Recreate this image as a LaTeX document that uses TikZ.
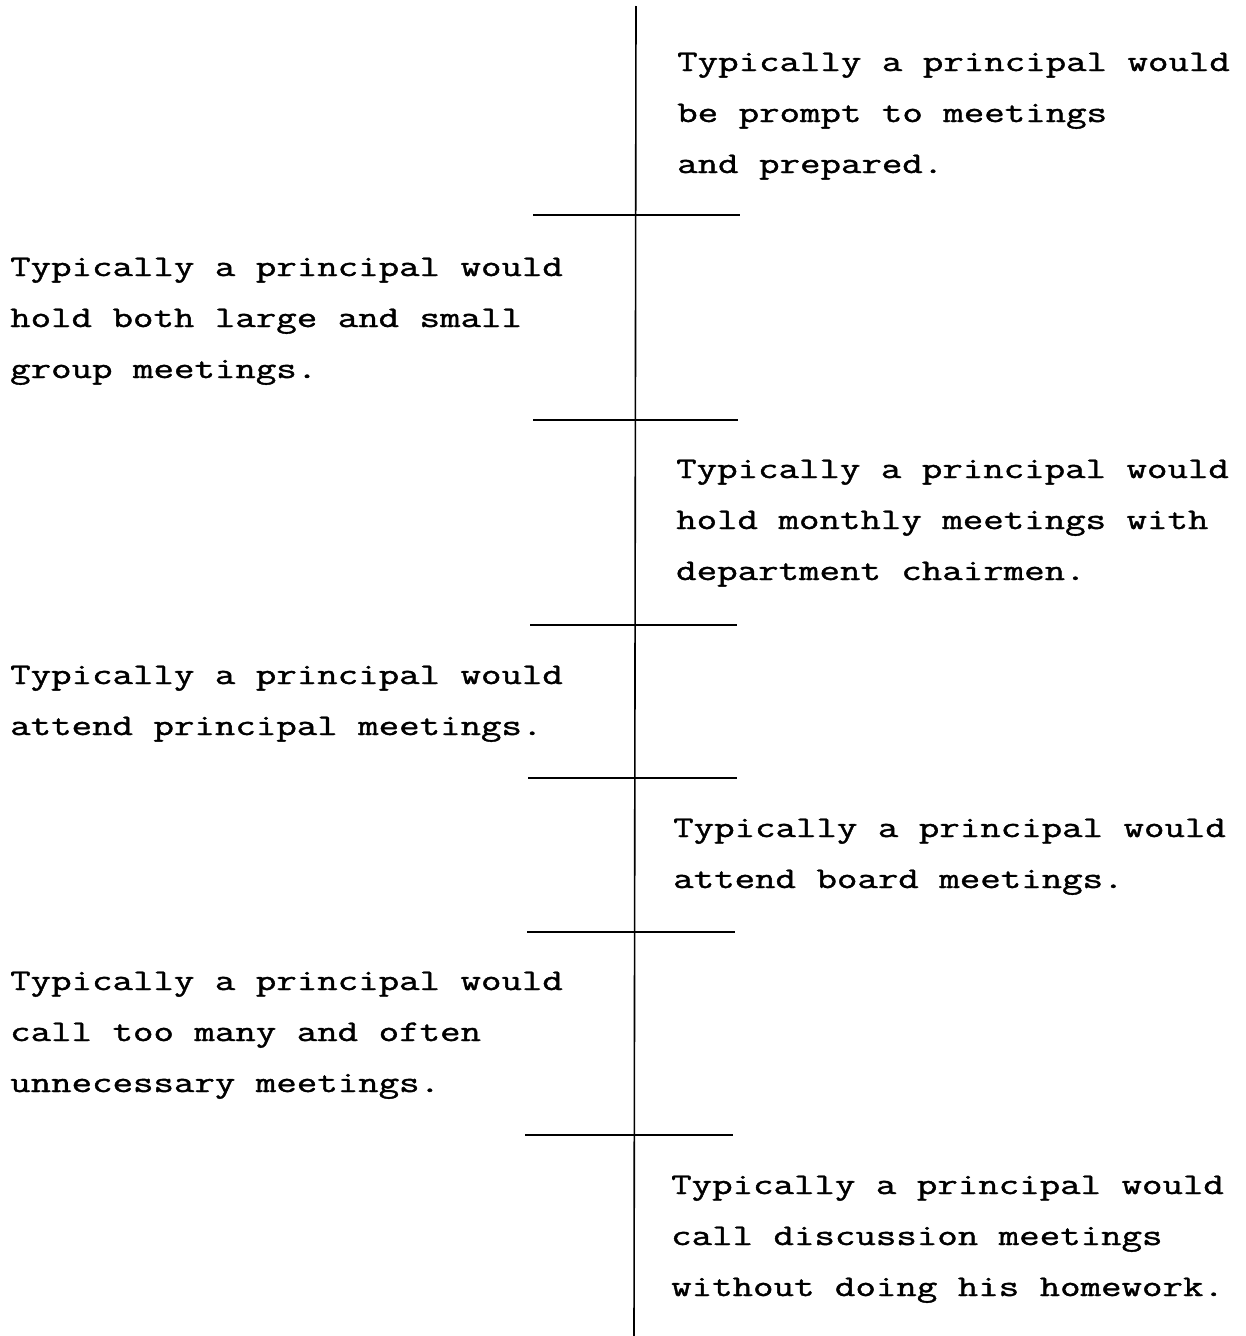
\documentclass[tikz,border=0pt]{standalone}
\usepackage{fontspec}
\usepackage{graphicx}
\newfontfamily\typewriter[FakeBold=1.1]{Latin Modern Mono}
\newcommand\twtext[1]{\scalebox{1.325}[1]{\begin{tabular}[t]{@{}l@{}}#1\end{tabular}}}
\begin{document}
\begin{tikzpicture}[x=1pt,y=-1pt,
  txt/.style={inner sep=0pt, anchor=base west, font=\typewriter\fontsize{30}{51}\selectfont},
  spine/.style={line width=1.6pt, black},
  tick/.style={line width=2.4pt, black}]
\useasboundingbox[fill=white] (0,0) rectangle (1246,1336);
% spine
\coordinate (top) at (636,6);
\coordinate (bot) at (634,1336);
\draw[spine] (top) -- (bot);
% ticks
\coordinate (t1a) at (533,215); \coordinate (t1b) at (740,215);
\coordinate (t2a) at (533,420); \coordinate (t2b) at (738,420);
\coordinate (t3a) at (530,625); \coordinate (t3b) at (737,625);
\coordinate (t4a) at (528,778); \coordinate (t4b) at (737,778);
\coordinate (t5a) at (527,932); \coordinate (t5b) at (735,932);
\coordinate (t6a) at (525,1135); \coordinate (t6b) at (733,1135);
\foreach \i in {1,...,6} {\draw[tick] (t\i a) -- (t\i b);}
% texts
\node[txt] (b1) at (677,71) {\twtext{Typically a principal would\\be prompt to meetings\\and prepared.}};
\node[txt] (b2) at (10,276) {\twtext{Typically a principal would\\hold both large and small\\group meetings.}};
\node[txt] (b3) at (676,478) {\twtext{Typically a principal would\\hold monthly meetings with\\department chairmen.}};
\node[txt] (b4) at (10,684) {\twtext{Typically a principal would\\attend principal meetings.}};
\node[txt] (b5) at (673,837) {\twtext{Typically a principal would\\attend board meetings.}};
\node[txt] (b6) at (10,990) {\twtext{Typically a principal would\\call too many and often\\unnecessary meetings.}};
\node[txt] (b7) at (671,1194) {\twtext{Typically a principal would\\call discussion meetings\\without doing his homework.}};
\end{tikzpicture}
\end{document}
